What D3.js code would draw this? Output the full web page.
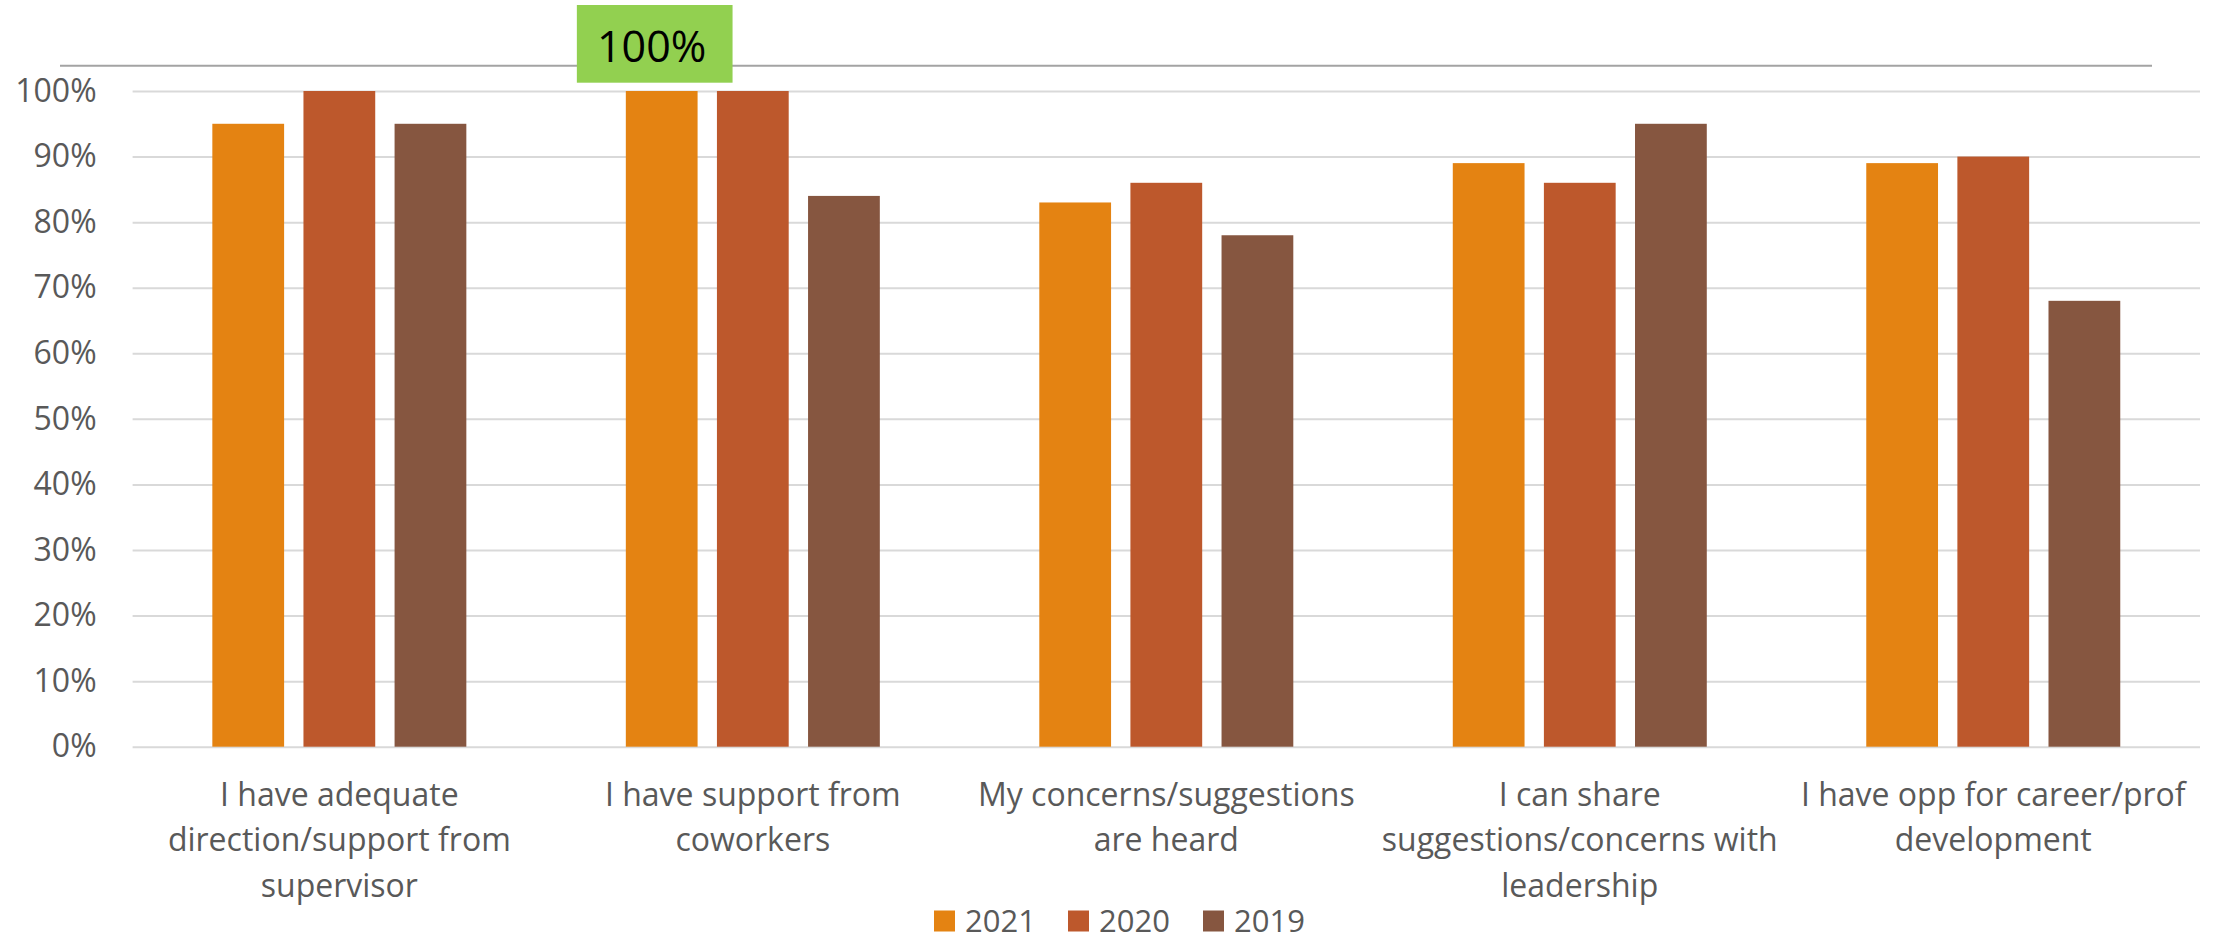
<!DOCTYPE html>
<html>
<head>
<meta charset="utf-8">
<script src="https://cdn.jsdelivr.net/npm/d3@7"></script>
<style>
  html, body { margin: 0; padding: 0; background: #ffffff; }
  svg { display: block; }
  text { font-family: "Open Sans", "Noto Sans", sans-serif; }
</style>
</head>
<body>
<svg id="chart" width="2223" height="940"></svg>
<script>
// Survey statements (line breaks mark where each label wraps)
const categories = [
  "I have adequate\ndirection/support from\nsupervisor",
  "I have support from\ncoworkers",
  "My concerns/suggestions\nare heard",
  "I can share\nsuggestions/concerns with\nleadership",
  "I have opp for career/prof\ndevelopment"
];
const years = ["2021", "2020", "2019"];
const values2021 = [95, 100, 83, 89, 89];
const values2020 = [100, 100, 86, 86, 90];
const values2019 = [95, 84, 78, 95, 68];
const yTicks = [0, 10, 20, 30, 40, 50, 60, 70, 80, 90, 100];
const colors = ["#E48312", "#BD582C", "#865640"];
// Highlighted value: 2021 result for "I have support from coworkers"
const calloutCategory = 1;
const calloutSeries = 0;

const seriesValues = [values2021, values2020, values2019];

const svg = d3.select("#chart");
const plot = { left: 132.6, right: 2200, top: 91, bottom: 746.7 };
const groupWidth = 254;

const y = d3.scaleLinear().domain([0, 100]).range([plot.bottom, plot.top]);
const x0 = d3.scaleBand().domain(d3.range(categories.length)).range([plot.left, plot.right]);
const x1 = d3.scaleBand().domain(d3.range(years.length)).range([0, groupWidth]).paddingInner(0.2124);
const groupOffset = (x0.bandwidth() - groupWidth) / 2;
const color = d3.scaleOrdinal().domain(d3.range(years.length)).range(colors);

// Decorative rule across the top
svg.append("line")
  .attr("x1", 60).attr("x2", 2152)
  .attr("y1", 65.7).attr("y2", 65.7)
  .attr("stroke", "#a3a3a3").attr("stroke-width", 2);

// Horizontal gridlines
svg.append("g")
  .attr("transform", `translate(${plot.left},0)`)
  .call(d3.axisLeft(y).tickValues(yTicks).tickSize(-(plot.right - plot.left)).tickFormat(""))
  .call(g => g.select(".domain").remove())
  .call(g => g.selectAll("line").attr("stroke", "#d9d9d9").attr("stroke-width", 2));

// Y axis labels
svg.append("g")
  .attr("transform", `translate(${plot.left},0)`)
  .call(d3.axisLeft(y).tickValues(yTicks).tickSize(0).tickPadding(36).tickFormat(d => d + "%"))
  .call(g => g.select(".domain").remove())
  .call(g => g.selectAll("text")
    .attr("fill", "#595959")
    .style("font-family", "'Open Sans', sans-serif")
    .style("font-size", "32px"));

// Bars
const groups = svg.append("g").selectAll("g")
  .data(categories.map((c, i) => i))
  .join("g")
  .attr("transform", i => `translate(${x0(i) + groupOffset},0)`);

groups.selectAll("rect")
  .data(i => seriesValues.map((vals, s) => ({ s, v: vals[i] })))
  .join("rect")
  .attr("x", d => x1(d.s))
  .attr("width", x1.bandwidth())
  .attr("y", d => y(d.v))
  .attr("height", d => y(0) - y(d.v))
  .attr("fill", d => color(d.s));

// Category labels
const labels = svg.append("g").selectAll("text")
  .data(categories)
  .join("text")
  .attr("text-anchor", "middle")
  .attr("fill", "#595959")
  .style("font-size", "32px")
  .attr("transform", (c, i) => `translate(${x0(i) + x0.bandwidth() / 2},805.7)`);

labels.selectAll("tspan")
  .data(c => c.split("\n"))
  .join("tspan")
  .attr("x", 0)
  .attr("y", (l, j) => j * 45.7)
  .text(l => l);

// Callout box above the highlighted bar
const calloutValue = seriesValues[calloutSeries][calloutCategory];
const barCenter = x0(calloutCategory) + groupOffset + x1(calloutSeries) + x1.bandwidth() / 2;
const boxW = 155.7, boxH = 77.7;
const boxX = barCenter - 7 - boxW / 2;
const boxY = y(calloutValue) - 8.3 - boxH;
svg.append("rect")
  .attr("x", boxX).attr("y", boxY)
  .attr("width", boxW).attr("height", boxH)
  .attr("fill", "#92D050");
svg.append("text")
  .attr("x", boxX + boxW / 2 - 3)
  .attr("y", boxY + 56.7)
  .attr("text-anchor", "middle")
  .attr("fill", "#000000")
  .style("font-size", "43px")
  .text(calloutValue + "%");

// Legend
const legendX = [934, 1068, 1203];
const legend = svg.append("g").selectAll("g")
  .data(years)
  .join("g")
  .attr("transform", (d, i) => `translate(${legendX[i]},910.5)`);
legend.append("rect")
  .attr("width", 21).attr("height", 21)
  .attr("fill", (d, i) => color(i));
legend.append("text")
  .attr("x", 31).attr("y", 21)
  .attr("fill", "#595959")
  .style("font-size", "31px")
  .text(d => d);
</script>
</body>
</html>
